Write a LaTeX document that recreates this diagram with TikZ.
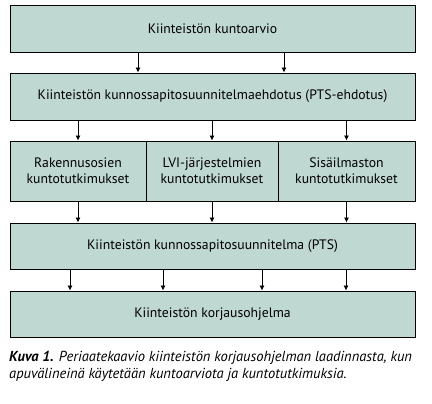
\documentclass[tikz,border=0pt]{standalone}
\usepackage{fontspec}
\setmainfont{PT Sans}
\usetikzlibrary{arrows.meta}
\definecolor{boxfill}{HTML}{C0D8D2}

\begin{document}
\begin{tikzpicture}[x=1pt,y=-1pt,
    box/.style={draw, fill=boxfill, line width=0.9pt, inner sep=0pt, align=center,
        font=\fontsize{13.7}{16}\selectfont},
    arr/.style={-{Latex[length=5pt,width=5pt]}, line width=0.8pt}]
    \useasboundingbox (0,0) rectangle (432,404);

    %boxes
    \node[box, minimum width=405pt, minimum height=47pt] (arvio) at (212.5,28.5) {Kiinteistön kuntoarvio};
    \node[box, minimum width=405pt, minimum height=47pt] (ehdotus) at (212.5,96.5) {Kiinteistön kunnossapitosuunnitelmaehdotus (PTS-ehdotus)};
    \node[box, minimum width=136pt, minimum height=60pt] (rak) at (78,171) {Rakennusosien\\kuntotutkimukset};
    \node[box, minimum width=132pt, minimum height=60pt] (lvi) at (212,171) {LVI-järjestelmien\\kuntotutkimukset};
    \node[box, minimum width=137pt, minimum height=60pt] (sisa) at (346.5,171) {Sisäilmaston\\kuntotutkimukset};
    \node[box, minimum width=405pt, minimum height=46pt] (pts) at (212.5,246) {Kiinteistön kunnossapitosuunnitelma (PTS)};
    \node[box, minimum width=405pt, minimum height=46pt] (ohjelma) at (212.5,314) {Kiinteistön korjausohjelma};

    %arrows
    \draw[arr] (arvio.south -| 138,0) -- (ehdotus.north -| 138,0);
    \draw[arr] (arvio.south -| 284,0) -- (ehdotus.north -| 284,0);
    \draw[arr] (ehdotus.south -| rak.south) -- (rak.north);
    \draw[arr] (ehdotus.south -| lvi.south) -- (lvi.north);
    \draw[arr] (ehdotus.south -| sisa.south) -- (sisa.north);
    \draw[arr] (rak.south) -- (pts.north -| rak.south);
    \draw[arr] (lvi.south) -- (pts.north -| lvi.south);
    \draw[arr] (sisa.south) -- (pts.north -| sisa.south);
    \foreach \x in {70,163,262,346}
        \draw[arr] (pts.south -| \x,0) -- (ohjelma.north -| \x,0);

    %caption
    \node[anchor=north west, inner sep=0pt, align=left, font=\fontsize{14.5}{17}\selectfont\itshape] (kuva) at (9,351)
        {\textbf{Kuva 1.} Periaatekaavio kiinteistön korjausohjelman laadinnasta, kun\\apuvälineinä käytetään kuntoarviota ja kuntotutkimuksia.};
\end{tikzpicture}
\end{document}
